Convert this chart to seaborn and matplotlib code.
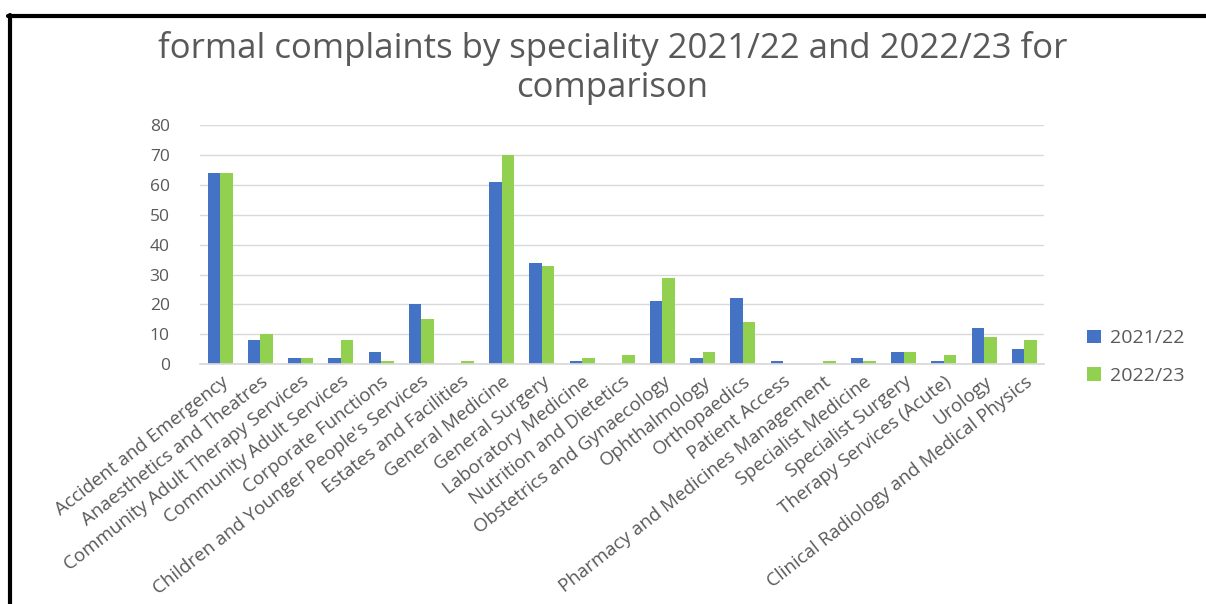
import matplotlib
matplotlib.use("Agg")
import matplotlib.pyplot as plt
from matplotlib.lines import Line2D
import pandas as pd
import seaborn as sns

specialities = [
    "Accident and Emergency",
    "Anaesthetics and Theatres",
    "Community Adult Therapy Services",
    "Community Adult Services",
    "Corporate Functions",
    "Children and Younger People's Services",
    "Estates and Facilities",
    "General Medicine",
    "General Surgery",
    "Laboratory Medicine",
    "Nutrition and Dietetics",
    "Obstetrics and Gynaecology",
    "Ophthalmology",
    "Orthopaedics",
    "Patient Access",
    "Pharmacy and Medicines Management",
    "Specialist Medicine",
    "Specialist Surgery",
    "Therapy Services (Acute)",
    "Urology",
    "Clinical Radiology and Medical Physics",
]
complaints_2021_22 = [64, 8, 2, 2, 4, 20, 0, 61, 34, 1, 0, 21, 2, 22, 1, 0, 2, 4, 1, 12, 5]
complaints_2022_23 = [64, 10, 2, 8, 1, 15, 1, 70, 33, 2, 3, 29, 4, 14, 0, 1, 1, 4, 3, 9, 8]
years = ["2021/22", "2022/23"]
colours = ["#4472C4", "#92D050"]

df = pd.concat([
    pd.DataFrame({"speciality": specialities, "year": years[0], "count": complaints_2021_22}),
    pd.DataFrame({"speciality": specialities, "year": years[1], "count": complaints_2022_23}),
])

sns.set_theme(style="white")
plt.rcParams["font.family"] = ["Open Sans", "DejaVu Sans"]

fig = plt.figure(figsize=(12.06, 6.04), dpi=100)
ax = fig.add_axes([0.166, 0.397, 0.700, 0.396])

sns.barplot(data=df, x="speciality", y="count", hue="year", palette=colours,
            width=0.62, gap=0.0, ax=ax, saturation=1, edgecolor="none")

ax.set_ylim(0, 80)
ax.set_yticks(range(0, 81, 10))
ax.set_xlim(-0.5, len(specialities) - 0.5)
ax.set_xlabel("")
ax.set_ylabel("")
ax.grid(axis="y", color="#D9D9D9", linewidth=1)
ax.set_axisbelow(True)
for side in ["top", "right", "left"]:
    ax.spines[side].set_visible(False)
ax.spines["bottom"].set_color("#D9D9D9")
ax.tick_params(axis="both", length=0, colors="#595959", labelsize=12.5)
ax.tick_params(axis="y", pad=22)
ax.tick_params(axis="x", pad=6)
plt.setp(ax.get_xticklabels(), rotation=38, ha="right", rotation_mode="anchor", fontsize=13.5)

ax.legend(loc="center left", bbox_to_anchor=(1.03, 0.03), frameon=False,
          fontsize=14, labelcolor="#595959", handlelength=0.7, handleheight=0.7,
          handletextpad=0.45, labelspacing=1.0)

fig.text(0.508, 0.888, "formal complaints by speciality 2021/22 and 2022/23 for\ncomparison",
         ha="center", va="center", fontsize=25, color="#595959", linespacing=1.2)

# Frame drawn on the left and top edges
fig.add_artist(Line2D([0.0083, 0.0083], [0.0, 0.975], color="black", linewidth=3, transform=fig.transFigure))
fig.add_artist(Line2D([0.007, 1.0], [0.974, 0.974], color="black", linewidth=3, transform=fig.transFigure))

fig.savefig("out.png", dpi=100, facecolor="white")
